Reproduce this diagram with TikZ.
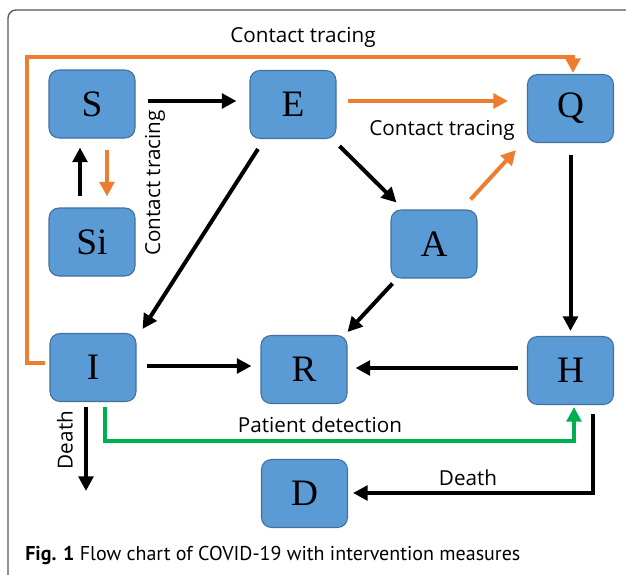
\documentclass[tikz,border=0pt]{standalone}
\usepackage{fontspec}
\setmainfont{Liberation Serif}
\newfontfamily\lab{Open Sans}
\newfontfamily\capfont{PT Sans}
\usetikzlibrary{arrows.meta,calc}
\definecolor{boxfill}{RGB}{91,155,213}
\definecolor{boxline}{RGB}{65,113,156}
\definecolor{org}{RGB}{237,125,49}
\definecolor{grn}{RGB}{0,176,80}
\definecolor{framec}{RGB}{85,85,85}
\tikzset{
  box/.style={draw=boxline, fill=boxfill, line width=0.8pt, rounded corners=7.5pt,
    minimum width=64.5pt, minimum height=51pt, inner sep=0pt,
    font=\fontsize{28}{30}\selectfont},
  tip/.style={-{Triangle[length=11pt,width=11pt]}},
  blk/.style={tip, line width=3pt, black},
  orn/.style={tip, line width=3pt, org},
  gr/.style={tip, line width=3pt, grn},
  lbl/.style={font=\lab\fontsize{15.5}{17}\selectfont, inner sep=0pt}
}
\begin{document}
\begin{tikzpicture}[x=0.75pt, y=-0.75pt]
\useasboundingbox (0,0) rectangle (626,575);
\fill[white] (0,0) rectangle (626,575);
\clip (0,0) rectangle (626,575);
\draw[framec, line width=1pt, rounded corners=6pt] (8,600) -- (8,10) -- (640,10);

\node[box] (S)  at (92,104)    {S};
\node[box] (Si) at (92,242)    {Si};
\node[box] (E)  at (293,104.5) {E};
\node[box] (Q)  at (570.5,108.5) {Q};
\node[box] (A)  at (434,244)   {A};
\node[box] (I)  at (93,367.5)  {I};
\node[box] (R)  at (304,369.5) {R};
\node[box] (H)  at (570.5,370.5) {H};
\node[box] (D)  at (304.5,493.5) {D};

\coordinate (ct) at (27,57);
\coordinate (dI) at (86,491);

% S <-> Si, S -> E
\draw[blk] ($(S.east)+(12,-3)$) -- ($(E.west)+(-13,-3.5)$);
\draw[blk] ($(Si.north)+(-12,-11)$) -- ($(S.south)+(-12,9)$);
\draw[orn] ($(S.south)+(15,11)$) -- ($(Si.north)+(15,-11)$);
\node[lbl, rotate=90] (ct1) at (155,183) {Contact tracing};

% E
\draw[blk] ($(E.south)+(-35,10)$) -- ($(I.north east)+(6,-4)$);
\draw[blk] ($(E.south east)+(3,7)$) -- ($(A.north west)+(6,-7)$);
\draw[orn] ($(E.east)+(11,-3.5)$) -- ($(Q.west)+(-19,-7.5)$);
\node[lbl] (ct2) at (442,130) {Contact tracing};
\draw[orn] ($(A.north east)+(-7,-10)$) -- ($(Q.south west)+(-11,7)$);

% top contact tracing loop
\draw[orn] ($(I.west)+(-4,-4.5)$) -| (ct) -| ($(Q.north)+(2.5,-1)$);
\node[lbl] (ct3) at (303,37) {Contact tracing};

% Q -> H
\draw[blk] ($(Q.south)+(0,12)$) -- ($(H.north)+(0,-5)$);
% A -> R
\draw[blk] ($(A.south west)+(2,5)$) -- ($(R.north east)+(0,-3)$);
% I -> R, H -> R
\draw[blk] ($(I.east)+(10,-1.5)$) -- ($(R.west)+(-9,-3.5)$);
\draw[blk] ($(H.west)+(-9,-2.5)$) -- ($(R.east)+(8,-1.5)$);

% I death
\draw[blk] ($(I.south)+(-7,5)$) -- (dI);
\node[lbl, rotate=90] (d1) at (65,440) {Death};

% patient detection
\draw[gr] ($(I.south)+(12,5)$) |- ($(H.south)+(3.5,36)$) -- ($(H.south)+(3.5,2)$);
\node[lbl] (pd) at (320,425) {Patient detection};

% H -> D
\draw[blk] ($(H.south)+(22.5,9)$) |- ($(D.east)+(5,-0.5)$);
\node[lbl] (d2) at (468,478) {Death};

% caption
\node[anchor=base west, inner sep=0pt, font=\capfont\fontsize{15}{17}\selectfont] (cap) at (25,560)
  {\textbf{Fig. 1} Flow chart of COVID-19 with intervention measures};
\end{tikzpicture}
\end{document}
